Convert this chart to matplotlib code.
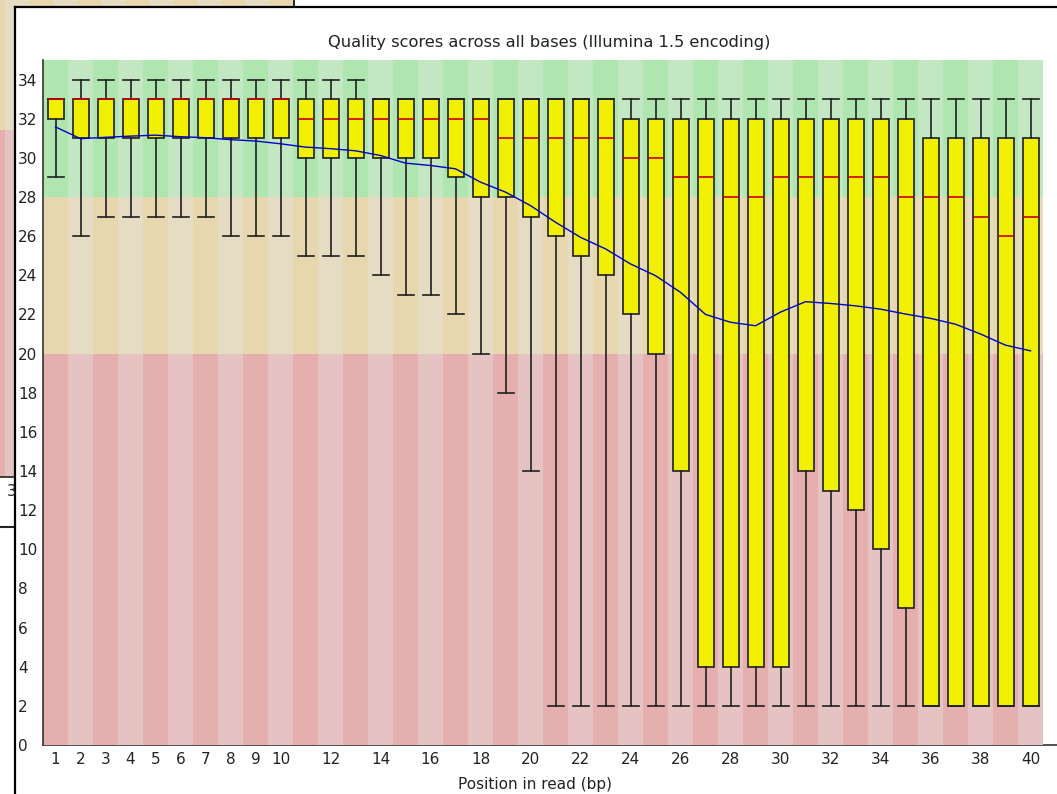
import matplotlib.pyplot as plt
from matplotlib.patches import Rectangle

# per-base quality values
positions = list(range(1, 41))
whisker_high = [33] + [34] * 12 + [33] * 27
q3 = [33] * 23 + [32] * 12 + [31] * 5
median = ([33] * 10 + [32] * 8 + [31] * 5 + [30, 30, 29, 29, 28, 28]
          + [29] * 5 + [28, 28, 28, 27, 26, 27])
q1 = ([32] + [31] * 9 + [30] * 6 + [29, 28, 28, 27, 26, 25, 24, 22, 20, 14]
      + [4] * 4 + [14, 13, 12, 10, 7] + [2] * 5)
whisker_low = ([29, 26] + [27] * 5 + [26] * 3 + [25] * 3 + [24, 23, 23, 22, 20, 18, 14]
               + [2] * 20)
mean = [31.58, 30.98, 31.05, 31.11, 31.16, 31.08, 31.03, 30.93, 30.86, 30.72,
        30.55, 30.47, 30.36, 30.12, 29.73, 29.61, 29.44, 28.76, 28.25, 27.56,
        26.71, 25.94, 25.35, 24.58, 23.98, 23.13, 22.00, 21.60, 21.42, 22.12,
        22.65, 22.56, 22.44, 22.27, 22.02, 21.80, 21.50, 21.00, 20.43, 20.14]

x_ticks = list(range(1, 11)) + list(range(12, 41, 2))
y_ticks = list(range(0, 35, 2))

# FastQC background bands
GOOD, GOOD_DARK = "#c3e6c3", "#afe6af"
OK, OK_DARK = "#e6dcc3", "#e6d7af"
BAD, BAD_DARK = "#e6c3c3", "#e6afaf"
OK_LIMIT, GOOD_LIMIT, Y_MAX = 20, 28, 35

W, H = 1057, 794
fig = plt.figure(figsize=(W / 100, H / 100), dpi=100)

# --- screenshot backdrop (window behind + window frame), pixel coords ---
bg = fig.add_axes([0, 0, 1, 1], zorder=-1)
bg.set_xlim(0, W)
bg.set_ylim(H, 0)
bg.axis("off")
for i, x0 in enumerate(range(-19, 270, 24)):
    col = OK_DARK if i % 2 == 0 else OK
    bg.add_patch(Rectangle((x0, 0), 24, 8, color=col, lw=0))
bg.add_patch(Rectangle((0, 0), 15, 130, color=OK_DARK, lw=0))
bg.add_patch(Rectangle((5, 0), 10, 130, color=OK, lw=0))
bg.add_patch(Rectangle((0, 130), 15, 347, color=BAD_DARK, lw=0))
bg.add_patch(Rectangle((5, 130), 10, 347, color=BAD, lw=0))
bg.plot([294, 294], [0, 7], color="black", lw=1.2)
bg.plot([0, 15], [477, 477], color="#222222", lw=1.2)
bg.plot([0, 15], [527, 527], color="#222222", lw=1.5)
bg.text(17, 491, "3", fontsize=11, ha="right", va="center", color="#222222")
bg.add_patch(Rectangle((15, 7), W, H, facecolor="white", lw=0))
bg.plot([15, W], [7, 7], color="black", lw=1.6)
bg.plot([15, 15], [7, H], color="black", lw=1.6)
bg.plot([43, W], [745, 745], color="#333333", lw=1.2)

# --- the chart ---
ax = fig.add_axes([43 / W, (H - 745) / H, 1000 / W, 685 / H])
ax.patch.set_visible(False)
for p in positions:
    dark = p % 2 == 1
    ax.add_patch(Rectangle((p - 0.5, 0), 1, OK_LIMIT, lw=0,
                           color=BAD_DARK if dark else BAD, zorder=0))
    ax.add_patch(Rectangle((p - 0.5, OK_LIMIT), 1, GOOD_LIMIT - OK_LIMIT, lw=0,
                           color=OK_DARK if dark else OK, zorder=0))
    ax.add_patch(Rectangle((p - 0.5, GOOD_LIMIT), 1, Y_MAX - GOOD_LIMIT, lw=0,
                           color=GOOD_DARK if dark else GOOD, zorder=0))

stats = [
    {"whislo": lo, "q1": a, "med": m, "q3": b, "whishi": hi}
    for lo, a, m, b, hi in zip(whisker_low, q1, median, q3, whisker_high)
]
ax.bxp(stats, positions=positions, widths=0.64, capwidths=0.64,
       showfliers=False, patch_artist=True, manage_ticks=False,
       boxprops=dict(facecolor="#f0f000", edgecolor="#202020", lw=1.2),
       medianprops=dict(color="#c80000", lw=1.2),
       whiskerprops=dict(color="#202020", lw=1.2),
       capprops=dict(color="#202020", lw=1.2), zorder=2)
ax.plot(positions, mean, color="#0000c8", lw=1.0, zorder=3)

ax.set_xlim(0.5, 40.5)
ax.set_ylim(0, Y_MAX)
ax.set_xticks(x_ticks)
ax.set_xticklabels([str(t) for t in x_ticks])
ax.set_yticks(y_ticks)
ax.set_yticklabels([str(t) for t in y_ticks])
ax.tick_params(length=0, labelsize=11, colors="#222222")
ax.tick_params(axis="y", pad=18)
ax.tick_params(axis="x", pad=5)
for lab in ax.get_yticklabels():
    lab.set_horizontalalignment("left")
for side in ("top", "right", "bottom"):
    ax.spines[side].set_visible(False)
ax.spines["left"].set_color("#333333")
ax.spines["left"].set_linewidth(1.2)

fig.text(549 / W, 1 - 42 / H, "Quality scores across all bases (Illumina 1.5 encoding)",
         ha="center", va="center", fontsize=11.7, color="#222222")
fig.text(535 / W, 1 - 784 / H, "Position in read (bp)",
         ha="center", va="center", fontsize=11, color="#222222")

fig.savefig("out.png", dpi=100)
